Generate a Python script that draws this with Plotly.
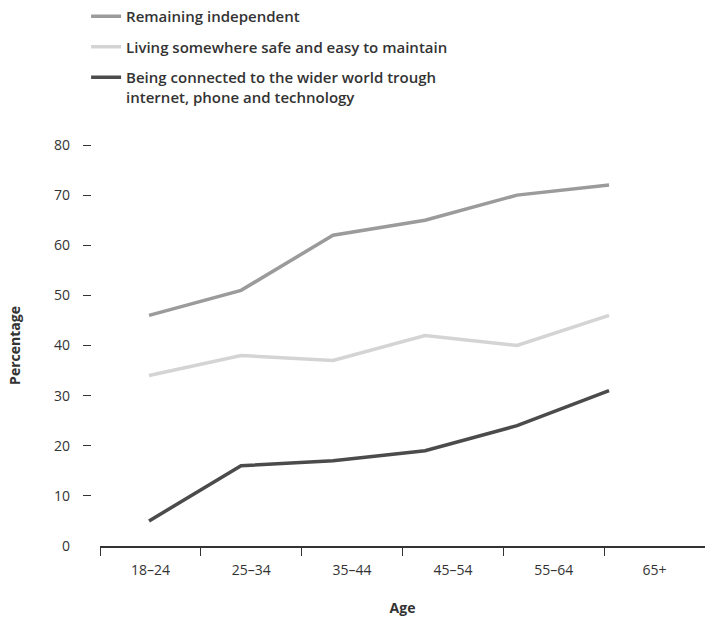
import plotly.graph_objects as go

categories = ["18–24", "25–34", "35–44", "45–54", "55–64", "65+"]
remaining_independent = [46, 51, 62, 65, 70, 72]
living_safe = [34, 38, 37, 42, 40, 46]
being_connected = [5, 16, 17, 19, 24, 31]
y_ticks = [0, 10, 20, 30, 40, 50, 60, 70, 80]

series = [
    ("Remaining independent", remaining_independent, "#9b9b9b"),
    ("Living somewhere safe and easy to maintain", living_safe, "#d4d4d4"),
    ("Being connected to the wider world trough<br>internet, phone and technology", being_connected, "#4b4b4b"),
]

FONT = "Open Sans"
TXT = "#333333"

fig = go.Figure()
for i, (name, vals, col) in enumerate(series):
    fig.add_trace(go.Scatter(
        x=categories, y=vals, name=name, mode="lines",
        line=dict(color=col, width=3.5),
        xaxis="x2", yaxis="y", legendgroup=f"g{i}",
        hoverinfo="skip",
    ))
# invisible traces so the category axis and the tick-mark axis are drawn
fig.add_trace(go.Scatter(x=categories, y=[None]*len(categories), showlegend=False,
                         hoverinfo="skip", xaxis="x", yaxis="y"))
fig.add_trace(go.Scatter(x=categories, y=[None]*len(categories), showlegend=False,
                         hoverinfo="skip", xaxis="x", yaxis="y2"))

W, H = 705, 618
L = 91
fig.update_layout(
    width=W, height=H,
    margin=dict(l=L, r=0, t=145, b=72),
    paper_bgcolor="white", plot_bgcolor="white",
    font=dict(family=FONT, size=14, color=TXT),
    showlegend=True,
    legend=dict(
        x=-0.008, xref="paper", y=1.0, yref="container", yanchor="top", xanchor="left",
        font=dict(family=FONT, size=15, color=TXT, weight=600),
        tracegroupgap=8, valign="top", bgcolor="rgba(0,0,0,0)",
        itemwidth=30,
    ),
    xaxis=dict(
        type="category", categoryorder="array", categoryarray=categories,
        range=[-0.5, 5.5], domain=[9/614, 1], automargin=False,
        showgrid=False, zeroline=False,
        showline=True, linecolor=TXT, linewidth=1.5,
        ticks="outside", tickson="boundaries", ticklen=8, tickwidth=1.2, tickcolor=TXT,
        ticklabelstandoff=10,
        tickfont=dict(family=FONT, size=14, color=TXT),
        title=dict(text="<b>Age</b>", font=dict(family=FONT, size=14, color=TXT), standoff=26),
        fixedrange=True,
    ),
    xaxis2=dict(
        type="category", categoryorder="array", categoryarray=categories,
        overlaying="x", range=[-0.533, 6.043], visible=False, domain=[9/614, 1],
        anchor="y", automargin=False,
    ),
    yaxis=dict(
        range=[0, 80], tickvals=y_ticks, showgrid=False, zeroline=False, showline=False,
        ticks="", ticklabelstandoff=29, automargin=False,
        tickfont=dict(family=FONT, size=14, color=TXT),
        title=dict(text="<b>Percentage</b>", font=dict(family=FONT, size=14, color=TXT), standoff=30),
        anchor="x",
    ),
    yaxis2=dict(
        range=[0, 80], tickvals=y_ticks[1:], overlaying="y", anchor="free", position=0,
        showgrid=False, zeroline=False, showline=False, showticklabels=False,
        ticks="outside", ticklen=8, tickwidth=1.2, tickcolor=TXT, automargin=False,
    ),
)

fig.write_html("out.html", config={"displayModeBar": False},
               post_script="document.body.style.margin='0px';")
